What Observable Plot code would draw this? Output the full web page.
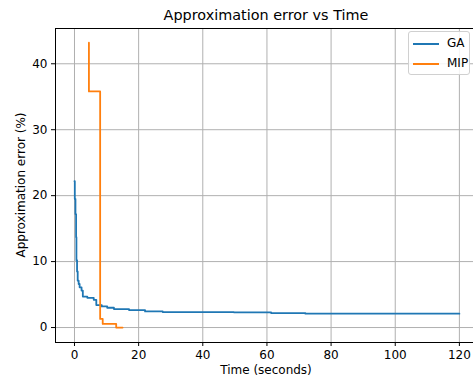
<!DOCTYPE html>
<html>
<head>
<meta charset="utf-8">
<script src="https://cdn.jsdelivr.net/npm/d3@7"></script>
<script src="https://cdn.jsdelivr.net/npm/@observablehq/plot@0.6"></script>
<style>
  html, body { margin: 0; padding: 0; background: #fff; }
  #wrap { position: relative; width: 473px; height: 378px; overflow: hidden; font-family: "DejaVu Sans", sans-serif; color: #000; }
  #wrap svg { position: absolute; left: 0; top: 0; }
  .lbl { position: absolute; white-space: nowrap; font-size: 12px; }
  #title { position: absolute; left: 266px; top: 15px; transform: translate(-50%, -50%); font-size: 14.4px; white-space: nowrap; }
  #xlabel { left: 266px; top: 370px; transform: translate(-50%, -50%); }
  #ylabel { left: 21px; top: 185px; transform: translate(-50%, -50%) rotate(-90deg); }
  #legend { position: absolute; left: 408px; top: 31px; width: 62px; height: 44px; border: 1px solid #d0d0d0; border-radius: 3px; background: rgba(255,255,255,0.85); box-sizing: border-box; }
  .item { position: absolute; left: 0; height: 14px; font-size: 12px; }
  .item .sw { position: absolute; left: 4px; top: 6px; width: 26px; height: 2px; }
  .item .tx { position: absolute; left: 38px; top: -1px; }
</style>
</head>
<body>
<div id="wrap">
  <div id="title">Approximation error vs Time</div>
  <div id="xlabel" class="lbl">Time (seconds)</div>
  <div id="ylabel" class="lbl">Approximation error (%)</div>
</div>
<script>
// Data (step-after series)
const gaTime  = [0, 0.1, 0.3, 0.5, 0.6, 0.8, 1.0, 1.3, 1.6, 2.2, 2.6, 4.0, 6.0, 6.8, 8.5, 10.2, 12.3, 17.0, 22.0, 27.5, 49.7, 61.3, 72.0, 120];
const gaError = [22.2, 19.5, 17.2, 13.7, 10.2, 8.5, 7.1, 6.6, 6.1, 5.6, 4.7, 4.5, 4.2, 3.4, 3.2, 3.0, 2.8, 2.65, 2.45, 2.35, 2.3, 2.2, 2.1, 2.1];
const mipTime  = [4.5, 4.5, 8.0, 8.8, 13.0, 15.0];
const mipError = [43.2, 35.8, 1.3, 0.55, 0, 0];
const seriesNames = ["GA", "MIP"];
const seriesColors = ["#1f77b4", "#ff7f0e"];
const xTicks = [0, 20, 40, 60, 80, 100, 120];
const yTicks = [0, 10, 20, 30, 40];

const rows = [
  ...gaTime.map((t, i) => ({series: "GA", t, e: gaError[i]})),
  ...mipTime.map((t, i) => ({series: "MIP", t, e: mipError[i]}))
];

const font = "DejaVu Sans, sans-serif";
const chart = Plot.plot({
  width: 473,
  height: 378,
  marginLeft: 55,
  marginRight: 0,
  marginTop: 28,
  marginBottom: 36,
  style: {fontFamily: font, fontSize: "12px", color: "#000", background: "transparent"},
  x: {domain: [-5.92, 124.4], ticks: xTicks},
  y: {domain: [-2.27, 45.35], ticks: yTicks},
  color: {domain: seriesNames, range: seriesColors},
  marks: [
    Plot.gridX(xTicks, {stroke: "#b0b0b0", strokeOpacity: 1, strokeWidth: 1}),
    Plot.gridY(yTicks, {stroke: "#b0b0b0", strokeOpacity: 1, strokeWidth: 1}),
    Plot.line(rows, {x: "t", y: "e", z: "series", stroke: "series", strokeWidth: 1.8, curve: "step-after"}),
    Plot.frame({anchor: "left", stroke: "#000", strokeWidth: 1}),
    Plot.frame({anchor: "top", stroke: "#000", strokeWidth: 1}),
    Plot.frame({anchor: "bottom", stroke: "#000", strokeWidth: 1}),
    Plot.axisX(xTicks, {label: null, tickSize: 4, tickPadding: 4, fontSize: 12, stroke: "#000"}),
    Plot.axisY(yTicks, {label: null, tickSize: 4, tickPadding: 4, fontSize: 12, stroke: "#000"})
  ]
});
const wrap = document.getElementById("wrap");
wrap.insertBefore(chart, wrap.firstChild);

// Legend
const legend = document.createElement("div");
legend.id = "legend";
seriesNames.forEach((name, i) => {
  const it = document.createElement("div");
  it.className = "item";
  it.style.top = (5 + i * 20) + "px";
  it.style.width = "100%";
  const sw = document.createElement("div");
  sw.className = "sw";
  sw.style.background = seriesColors[i];
  const tx = document.createElement("div");
  tx.className = "tx";
  tx.textContent = name;
  it.appendChild(sw); it.appendChild(tx);
  legend.appendChild(it);
});
wrap.appendChild(legend);
</script>
</body>
</html>
